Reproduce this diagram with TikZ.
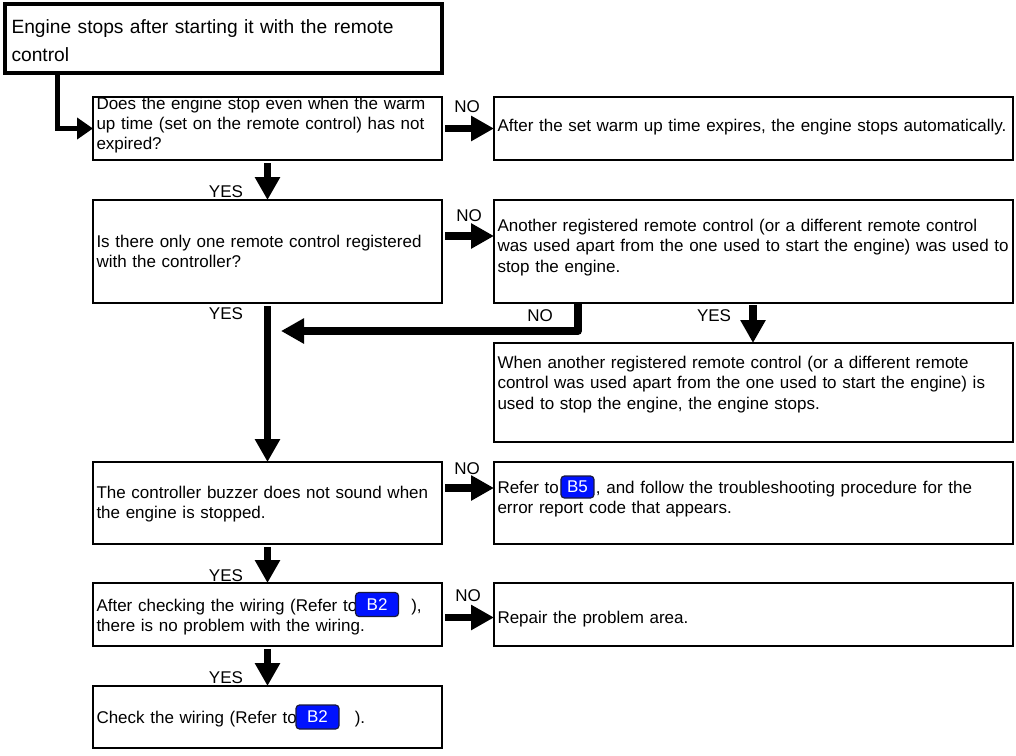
\documentclass[tikz,border=0pt]{standalone}
\usepackage{fontspec}
\setmainfont{Liberation Sans}
\usetikzlibrary{arrows.meta}
\definecolor{badgeblue}{RGB}{0,18,255}
\definecolor{badgeline}{RGB}{25,25,60}
\newcommand{\bodyfont}{\fontsize{17.0}{20.3}\selectfont}
\newcommand{\headfont}{\fontsize{19.2}{28}\selectfont}
\newlength{\wRefR}\newlength{\wRefQ}\newlength{\wRefC}
\begin{document}
\settowidth{\wRefR}{\bodyfont Refer to}%
\settowidth{\wRefQ}{\bodyfont After checking the wiring (Refer to}%
\settowidth{\wRefC}{\bodyfont Check the wiring (Refer to}%
\begin{tikzpicture}[x=1pt,y=-1pt,
  box/.style={draw, line width=2pt, anchor=north west, inner xsep=3.5pt, inner ysep=0pt, outer sep=0pt, align=left, font=\bodyfont},
  lbox/.style={box, minimum width=349pt, text width=342pt},
  rbox/.style={box, minimum width=519pt, text width=512pt},
  tb/.style n args={2}{text height=#1pt, text depth=#2pt},
  flow/.style={line width=7.5pt, -{Triangle[length=23pt 0 0,width=24pt 0 0]}},
  lbl/.style={font=\bodyfont, inner sep=0pt},
  badge/.style={draw=badgeline, fill=badgeblue, text=white, line width=1.2pt, rounded corners=3.5pt, font=\bodyfont, inner sep=0pt, outer sep=0pt, minimum height=24pt, anchor=west}
]
\useasboundingbox (0,0) rectangle (1016,755);
\fill[white] (0,0) rectangle (1016,755);

% boxes
\node[box, line width=4.5pt, minimum width=437pt, minimum height=69pt, text width=424pt, inner xsep=6.5pt, font=\headfont, tb={28}{38}] (start) at (5,4) {Engine stops after starting it with the remote\\control};
\node[lbox, minimum height=63pt, tb={11}{50}] (q1) at (93,97) {Does the engine stop even when the warm\\up time (set on the remote control) has not\\expired?};
\node[rbox, minimum height=63pt, tb={33.5}{27.5}] (r1) at (494,97) {\mbox{After the set warm up time expires, the engine stops automatically.}};
\node[lbox, minimum height=103pt, tb={46.5}{54.5}] (q2) at (93,200) {Is there only one remote control registered\\with the controller?};
\node[rbox, minimum height=103pt, tb={30.5}{70.5}] (r2) at (494,200) {\mbox{Another registered remote control (or a different remote control}\\\mbox{was used apart from the one used to start the engine) was used to}\\stop the engine.};
\node[rbox, minimum height=99pt, tb={24.5}{72.5}] (r3) at (494,343) {\mbox{When another registered remote control (or a different remote}\\\mbox{control was used apart from the one used to start the engine) is}\\used to stop the engine, the engine stops.};
\node[lbox, minimum height=82pt, tb={35.5}{44.5}] (q3) at (93,462) {The controller buzzer does not sound when\\the engine is stopped.};
\node[rbox, minimum height=82pt, tb={30.5}{49.5}] (r4) at (494,462) {\mbox{Refer to\hspace{37pt}, and follow the troubleshooting procedure for the}\\error report code that appears.};
\node[lbox, minimum height=63pt, tb={27}{34}] (q4) at (93,583) {\mbox{After checking the wiring (Refer to\hspace{54pt}),}\\there is no problem with the wiring.};
\node[rbox, minimum height=63pt, tb={39.5}{21.5}] (r5) at (494,583) {Repair the problem area.};
\node[lbox, minimum height=62pt, tb={36.5}{23.5}] (q5) at (93,686) {\mbox{Check the wiring (Refer to\hspace{58pt}).}};

% badges
\node[badge, minimum width=33pt, minimum height=22pt] (b5) at ([xshift=3.5pt+\wRefR+3pt, yshift=6.5pt]r4.base west) {B5};
\node[badge, minimum width=43pt] (b2a) at ([xshift=3.5pt+\wRefQ+3pt, yshift=6.5pt]q4.base west) {B2};
\node[badge, minimum width=43pt] (b2b) at ([xshift=3.5pt+\wRefC+3pt, yshift=6.5pt]q5.base west) {B2};

% connectors
\draw[line width=5pt, -{Triangle[length=16pt 0 0,width=21pt 0 0]}] ([xshift=52pt]start.south west) |- (q1.west);
\draw[flow] ([xshift=3pt]q1.east) -- (r1.west);
\draw[flow] ([yshift=-3pt]q1.south) -- (q2.north);
\draw[flow] ([xshift=3pt,yshift=15.5pt]q2.east) -- ([yshift=15.5pt]r2.west);
\draw[flow] ([yshift=-3pt]q2.south) -- (q3.north);
\coordinate (merge) at (281,331);
\draw[flow, line join=round] ([xshift=84pt]r2.south west) |- (merge);
\draw[flow] ([xshift=259pt,yshift=-2pt]r2.south west) -- ([xshift=259pt]r3.north west);
\draw[flow] ([xshift=3pt,yshift=15pt]q3.east) -- ([yshift=15pt]r4.west);
\draw[flow] ([yshift=-3pt]q3.south) -- (q4.north);
\draw[flow] ([xshift=3pt,yshift=-3pt]q4.east) -- ([yshift=-3pt]r5.west);
\draw[flow] ([yshift=-3pt]q4.south) -- (q5.north);

% labels
\node[lbl] (no1) at (467,107) {NO};
\node[lbl] (no2) at (469,216) {NO};
\node[lbl] (no3) at (467,469) {NO};
\node[lbl] (no4) at (468,596) {NO};
\node[lbl] (yes1) at (226,192) {YES};
\node[lbl] (yes2) at (226,314) {YES};
\node[lbl] (no5) at (540,316) {NO};
\node[lbl] (yes3) at (714,316) {YES};
\node[lbl] (yes4) at (226,576) {YES};
\node[lbl] (yes5) at (226,678) {YES};
\end{tikzpicture}
\end{document}
